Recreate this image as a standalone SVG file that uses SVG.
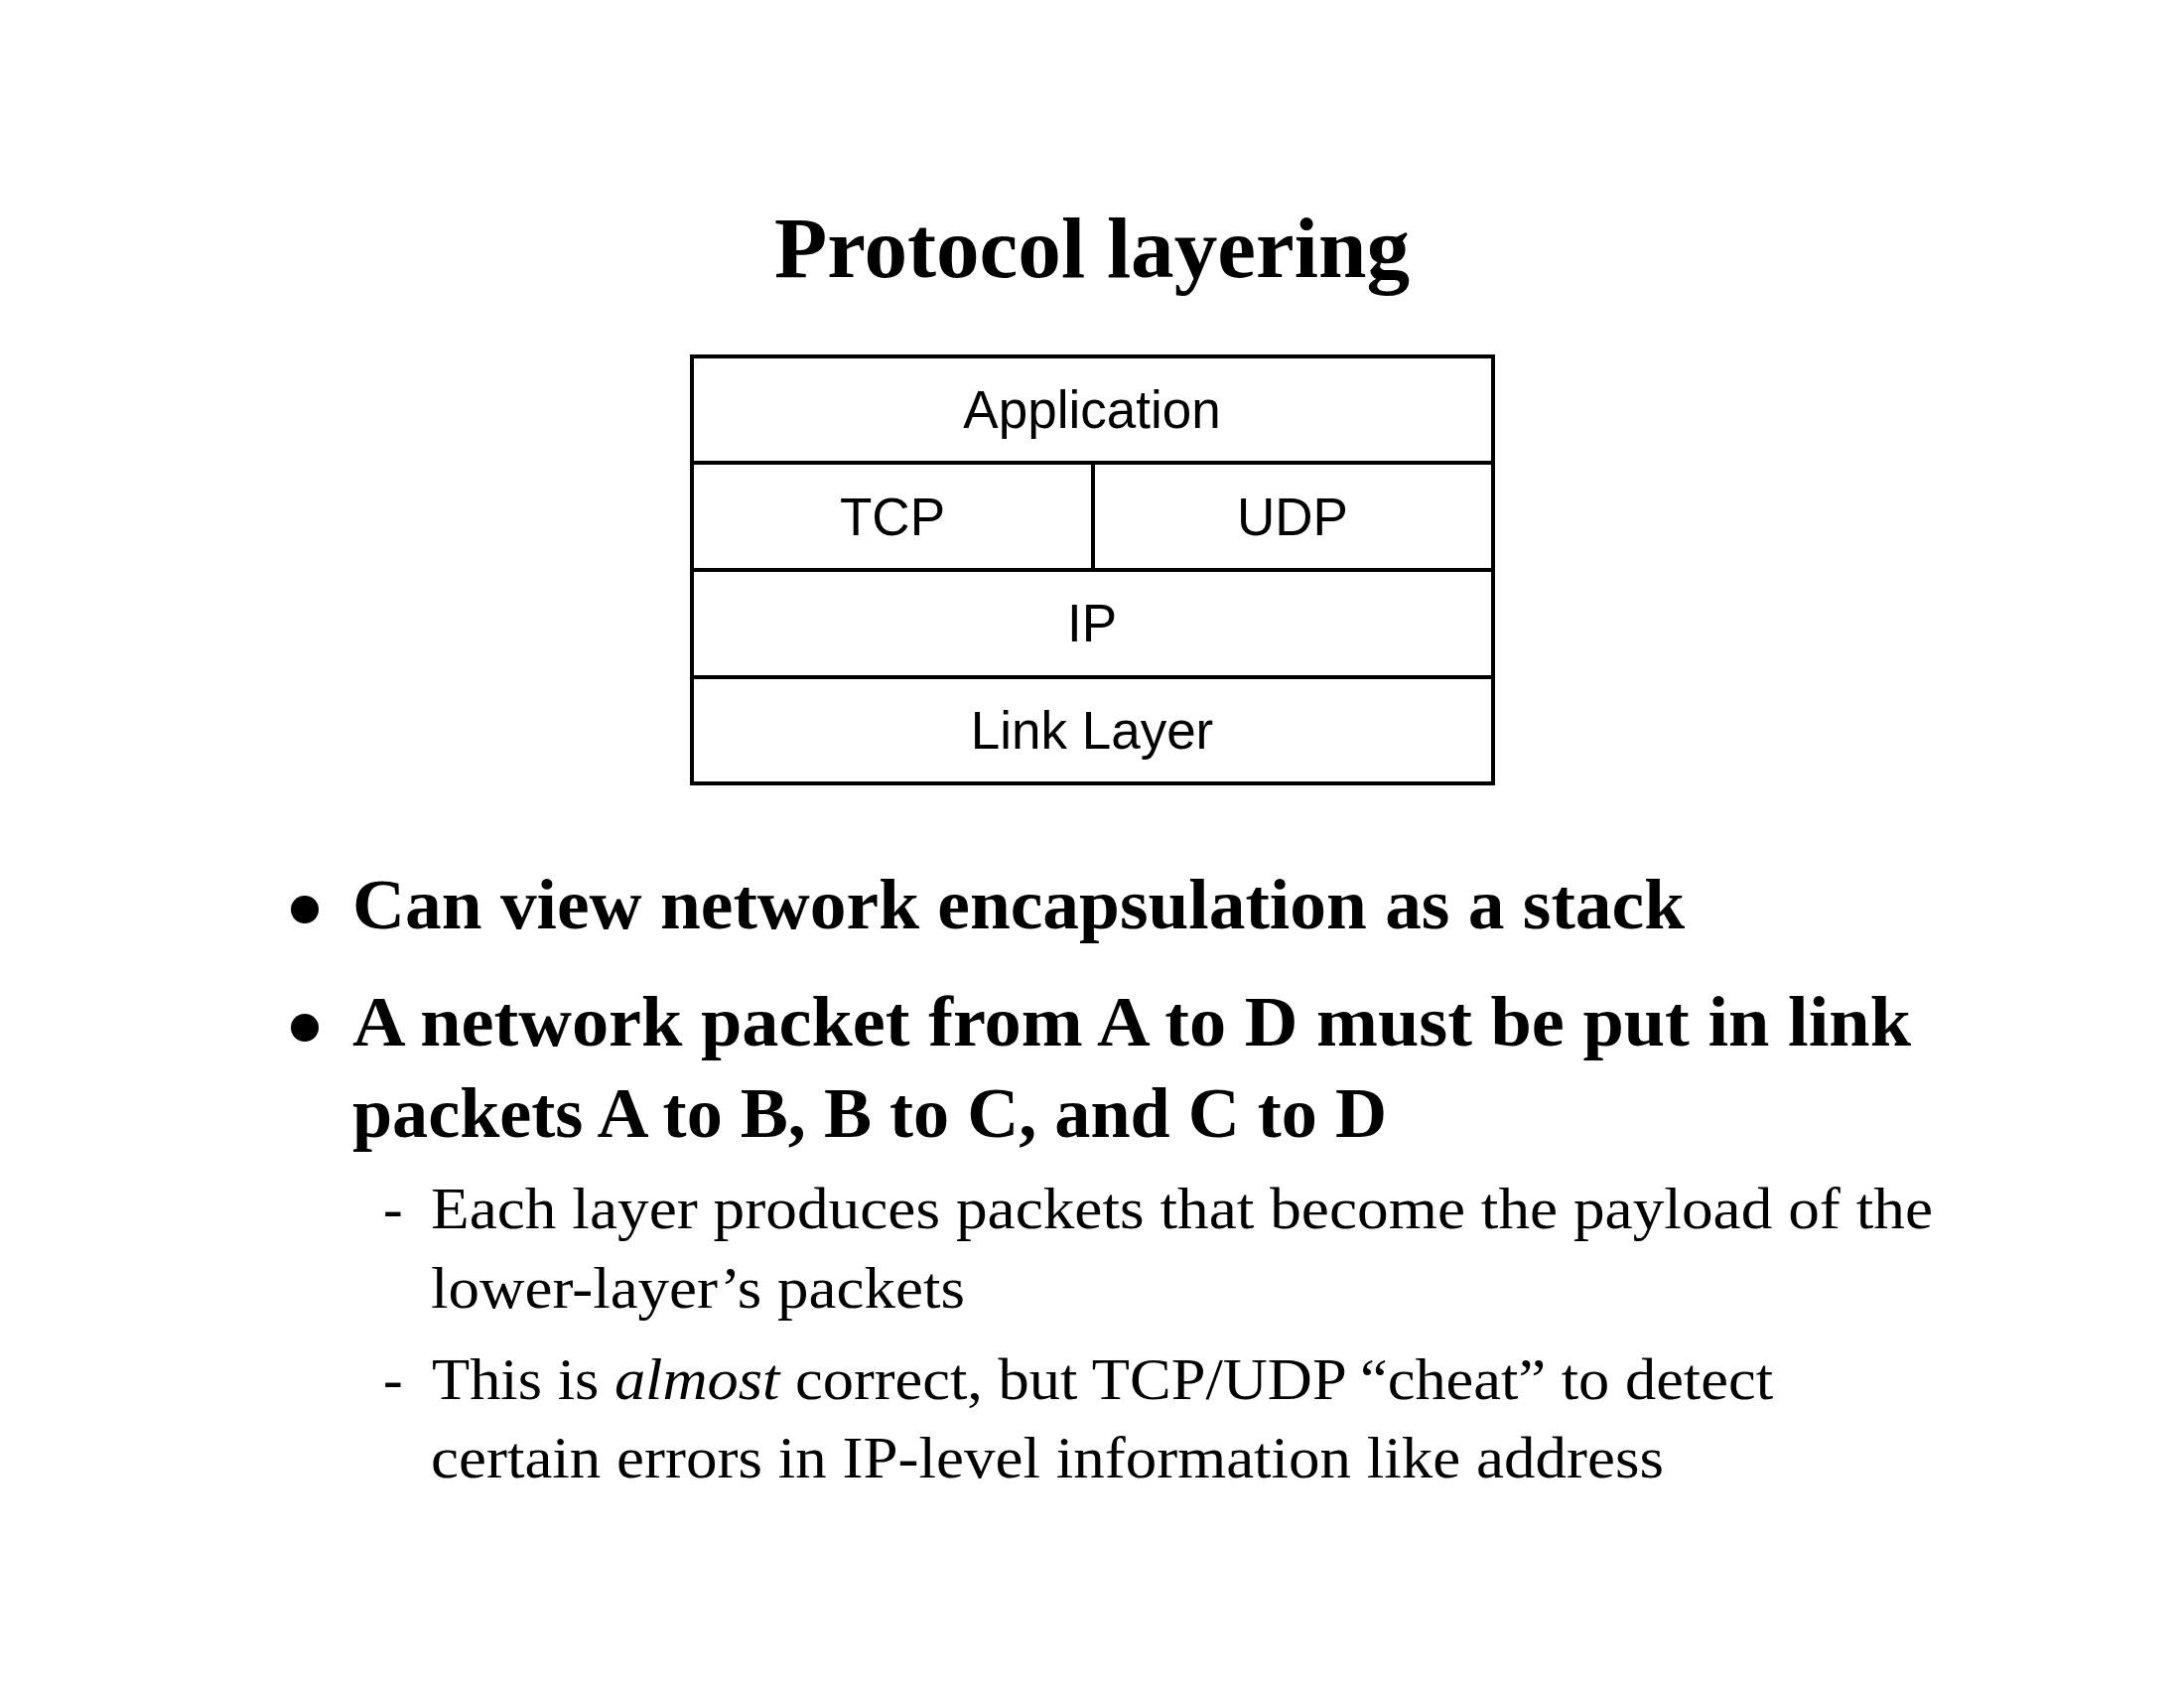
<svg xmlns="http://www.w3.org/2000/svg" width="2200" height="1700" viewBox="0 0 2200 1700">
<style>
.title{font-family:"Liberation Serif","Times New Roman",serif;font-weight:bold;font-size:86px;fill:#000}
.cell{fill:#fff;stroke:#000;stroke-width:4}
.lbl{font-family:"Liberation Sans",Arial,sans-serif;font-size:53px;fill:#000;text-anchor:middle}
.b1{font-family:"Liberation Serif","Times New Roman",serif;font-weight:bold;font-size:72px;fill:#000}
.b2{font-family:"Liberation Serif","Times New Roman",serif;font-size:59px;fill:#000}
.dot{fill:#000}
</style>
<rect width="2200" height="1700" fill="#fff"/>
<text class="title" x="780" y="279" textLength="640" lengthAdjust="spacingAndGlyphs">Protocol layering</text>
<g id="application"><rect class="cell" x="697" y="359" width="807" height="107"/><text class="lbl" x="1100" y="431">Application</text></g>
<g id="tcp"><rect class="cell" x="697" y="466" width="404" height="108"/><text class="lbl" x="899" y="539">TCP</text></g>
<g id="udp"><rect class="cell" x="1101" y="466" width="403" height="108"/><text class="lbl" x="1302" y="539">UDP</text></g>
<g id="ip"><rect class="cell" x="697" y="574" width="807" height="108"/><text class="lbl" x="1100" y="646">IP</text></g>
<g id="link"><rect class="cell" x="697" y="682" width="807" height="107"/><text class="lbl" x="1100" y="754">Link Layer</text></g>
<g id="connectors"></g>
<g id="bullets">
<circle class="dot" cx="307" cy="916" r="14"/>
<text class="b1" x="355" y="935" textLength="1342" lengthAdjust="spacingAndGlyphs">Can view network encapsulation as a stack</text>
<circle class="dot" cx="307" cy="1035" r="14"/>
<text class="b1" x="355" y="1053" textLength="1570" lengthAdjust="spacingAndGlyphs">A network packet from A to D must be put in link</text>
<text class="b1" x="355" y="1145" textLength="1042" lengthAdjust="spacingAndGlyphs">packets A to B, B to C, and C to D</text>
<text class="b2" x="386" y="1237">-</text>
<text class="b2" x="434" y="1237" textLength="1513" lengthAdjust="spacingAndGlyphs">Each layer produces packets that become the payload of the</text>
<text class="b2" x="434" y="1317" textLength="538" lengthAdjust="spacingAndGlyphs">lower-layer’s packets</text>
<text class="b2" x="386" y="1409">-</text>
<text class="b2" x="435" y="1409" textLength="1351" lengthAdjust="spacingAndGlyphs">This is <tspan font-style="italic">almost</tspan> correct, but TCP/UDP “cheat” to detect</text>
<text class="b2" x="434" y="1488" textLength="1242" lengthAdjust="spacingAndGlyphs">certain errors in IP-level information like address</text>
</g>
</svg>
